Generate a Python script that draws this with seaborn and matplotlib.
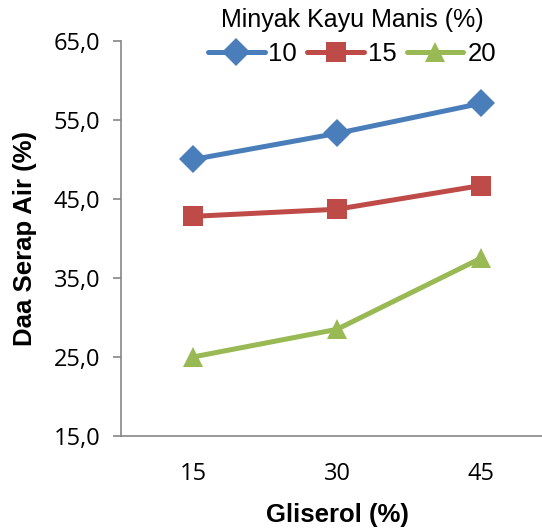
import numpy as np
import pandas as pd
import matplotlib
matplotlib.use("Agg")
import matplotlib.pyplot as plt
from matplotlib.ticker import FuncFormatter
import seaborn as sns

sns.set_theme(style="white")
plt.rcParams['font.family'] = ['Liberation Sans', 'DejaVu Sans']
plt.rcParams['text.color'] = 'black'
plt.rcParams['axes.labelcolor'] = 'black'
plt.rcParams['xtick.color'] = 'black'
plt.rcParams['ytick.color'] = 'black'

# data
gliserol = ["15", "30", "45"]
kayu_manis = ["10", "15", "20"]
serap_10 = [50.0, 53.3, 57.1]
serap_15 = [42.8, 43.7, 46.7]
serap_20 = [25.0, 28.5, 37.5]

df = pd.DataFrame({
    "Gliserol": gliserol * 3,
    "Minyak": [k for k in kayu_manis for _ in gliserol],
    "Serap": serap_10 + serap_15 + serap_20,
})

warna = ["#4A7EBB", "#BE4B48", "#98B954"]
penanda = {"10": "D", "15": "s", "20": "^"}

fig = plt.figure(figsize=(5.42, 5.30), dpi=100)
ax = fig.add_axes([0.2232, 0.1774, 0.797, 0.7453])

sns.lineplot(data=df, x="Gliserol", y="Serap", hue="Minyak", style="Minyak",
             markers=penanda, dashes=False, palette=warna, linewidth=3.6,
             markersize=14, markeredgewidth=0, ax=ax, sort=False)

ax.set_xlim(-0.5, 2.5)
ax.set_ylim(15, 65)
ax.set_yticks(np.arange(15, 66, 10))
ax.yaxis.set_major_formatter(FuncFormatter(lambda v, p: f"{v:.1f}".replace(".", ",")))

for s in ["top", "right"]:
    ax.spines[s].set_visible(False)
for s in ["left", "bottom"]:
    ax.spines[s].set_color("#868686")
    ax.spines[s].set_linewidth(1.2)

ax.tick_params(axis="y", which="major", left=True, length=6, width=1.2,
               color="#868686", pad=9, labelsize=17, labelcolor="black")
ax.tick_params(axis="x", bottom=False, pad=13, labelsize=17, labelcolor="black")
for lab in ax.get_yticklabels() + ax.get_xticklabels():
    lab.set_fontfamily(["Open Sans", "DejaVu Sans"])

ax.set_xlabel("Gliserol (%)", fontsize=18.5, fontweight="bold", labelpad=12)
ax.set_ylabel("Daa Serap Air (%)", fontsize=18.5, fontweight="bold", labelpad=12)

leg = ax.legend(title="Minyak Kayu Manis (%)", ncol=3, loc="center",
                bbox_to_anchor=(352 / 542, 1 - 37 / 530), bbox_transform=fig.transFigure,
                frameon=False, fontsize=18.5, title_fontsize=18, handlelength=2.2,
                columnspacing=0.4, handletextpad=0.15, borderpad=0, labelspacing=0)
leg._legend_box.sep = 7

fig.savefig("out.png", dpi=100)
